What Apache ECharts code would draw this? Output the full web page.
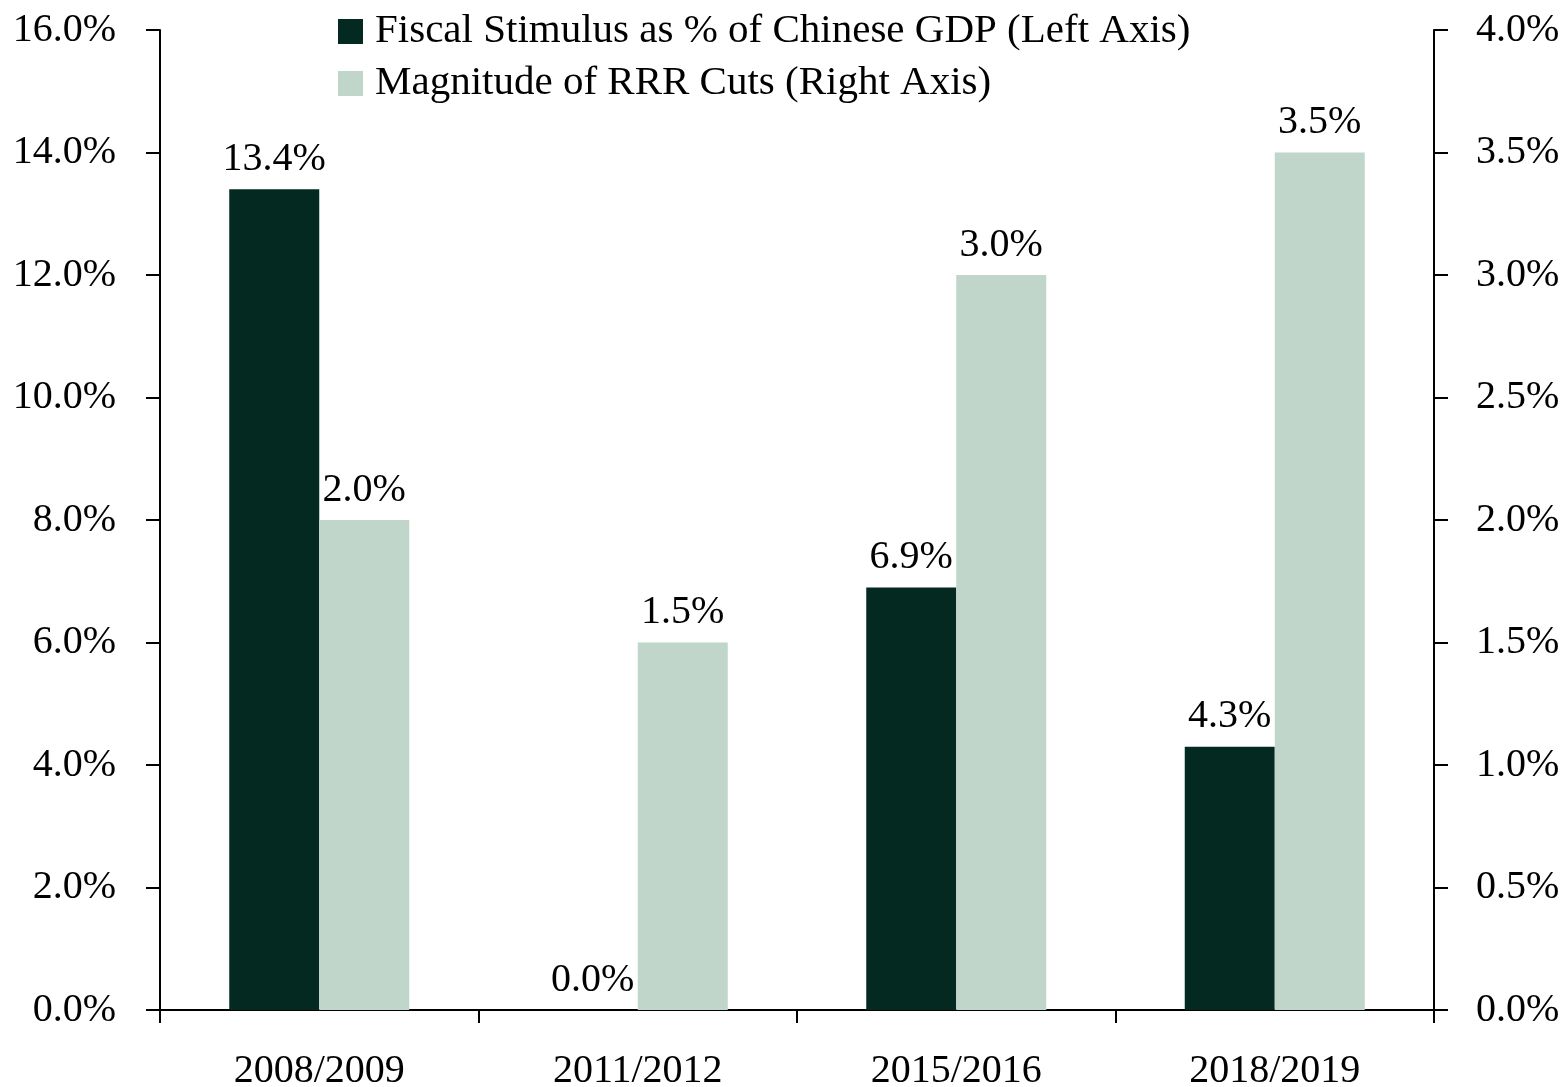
<!DOCTYPE html>
<html>
<head>
<meta charset="utf-8">
<script src="https://cdn.jsdelivr.net/npm/echarts@6/dist/echarts.min.js"></script>
<style>
  html, body { margin: 0; padding: 0; background: #fff; }
  #chart { width: 1565px; height: 1087px; }
</style>
</head>
<body>
<div id="chart"></div>
<script>
const categories = ["2008/2009", "2011/2012", "2015/2016", "2018/2019"];
const fiscalStimulus = [13.4, 0.0, 6.9, 4.3];
const rrrCuts = [2.0, 1.5, 3.0, 3.5];
const seriesNames = [
  "Fiscal Stimulus as % of Chinese GDP (Left Axis)",
  "Magnitude of RRR Cuts (Right Axis)"
];

const font = "'Liberation Serif', 'DejaVu Serif', serif";
const fontSize = 40;
const pct = v => Number(v).toFixed(1) + "%";

const chart = echarts.init(document.getElementById("chart"));
chart.setOption({
  animation: false,
  textStyle: { fontFamily: font, color: "#000" },
  legend: {
    orient: "vertical",
    left: 338,
    top: 11,
    padding: 0,
    itemWidth: 25,
    itemHeight: 25,
    itemGap: 11,
    icon: "rect",
    textStyle: { fontFamily: font, fontSize: 41, color: "#000", padding: [0, 0, 0, 7] },
    data: seriesNames
  },
  grid: { left: 160, right: 131, top: 30, bottom: 77, containLabel: false, outerBoundsMode: "none" },
  xAxis: {
    type: "category",
    data: categories,
    axisLine: { lineStyle: { color: "#000", width: 2 } },
    axisTick: { show: true, length: 13, lineStyle: { color: "#000", width: 2 } },
    axisLabel: { fontFamily: font, fontSize: fontSize, color: "#000", margin: 41 }
  },
  yAxis: [
    {
      type: "value",
      min: 0, max: 16, interval: 2,
      position: "left",
      splitLine: { show: false },
      axisLine: { show: true, lineStyle: { color: "#000", width: 2 } },
      axisTick: { show: true, length: 14, lineStyle: { color: "#000", width: 2 } },
      axisLabel: { fontFamily: font, fontSize: fontSize, color: "#000", margin: 44, formatter: pct }
    },
    {
      type: "value",
      min: 0, max: 4, interval: 0.5,
      position: "right",
      splitLine: { show: false },
      axisLine: { show: true, lineStyle: { color: "#000", width: 2 } },
      axisTick: { show: true, length: 14, lineStyle: { color: "#000", width: 2 } },
      axisLabel: { fontFamily: font, fontSize: fontSize, color: "#000", margin: 42, formatter: pct }
    }
  ],
  series: [
    {
      name: seriesNames[0],
      type: "bar",
      yAxisIndex: 0,
      barWidth: 90,
      barGap: "0%",
      itemStyle: { color: "#032920" },
      label: { show: true, position: "top", distance: 10, fontFamily: font, fontSize: fontSize, color: "#000", formatter: p => pct(p.value) },
      data: fiscalStimulus
    },
    {
      name: seriesNames[1],
      type: "bar",
      yAxisIndex: 1,
      barWidth: 90,
      barGap: "0%",
      itemStyle: { color: "#c1d6ca" },
      label: { show: true, position: "top", distance: 10, fontFamily: font, fontSize: fontSize, color: "#000", formatter: p => pct(p.value) },
      data: rrrCuts
    }
  ]
});
</script>
</body>
</html>
